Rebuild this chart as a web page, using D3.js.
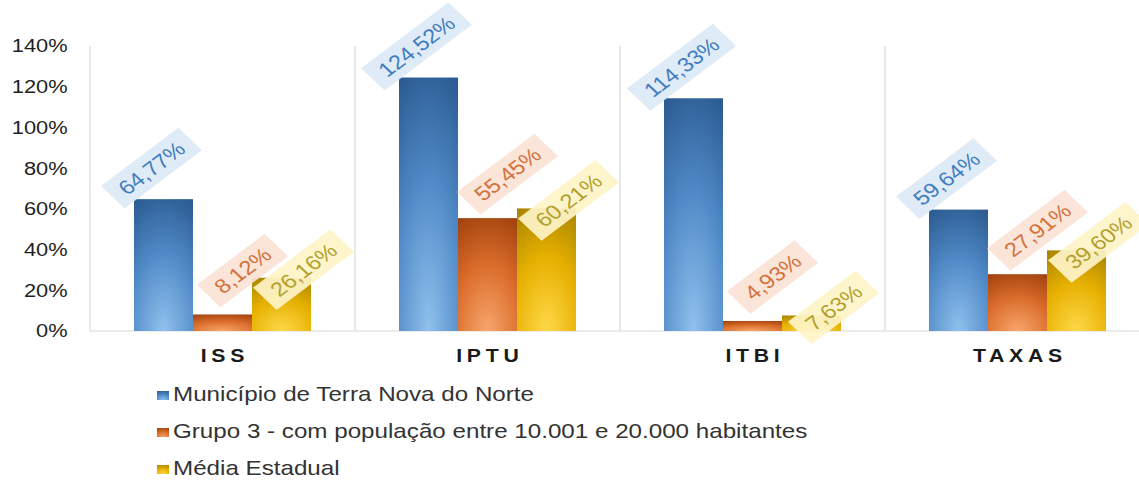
<!DOCTYPE html>
<html>
<head>
<meta charset="utf-8">
<script src="https://cdn.jsdelivr.net/npm/d3@7"></script>
<style>
body { margin: 0; background: #fff; }
text { font-family: "Liberation Sans", Arial, sans-serif; }
</style>
</head>
<body>
<svg id="chart" width="1139" height="480"></svg>
<script>
// values (percent)
var categories = ['ISS', 'IPTU', 'ITBI', 'TAXAS'];
var seriesNames = [
  'Município de Terra Nova do Norte',
  'Grupo 3 - com população entre 10.001 e 20.000 habitantes',
  'Média Estadual'
];
var municipio = [64.77, 124.52, 114.33, 59.64];
var grupo3 = [8.12, 55.45, 4.93, 27.91];
var mediaEstadual = [26.16, 60.21, 7.63, 39.60];
var yTicks = [0, 20, 40, 60, 80, 100, 120, 140];

var values = [municipio, grupo3, mediaEstadual];

// the original picture is stretched sideways, so draw in a narrower space and scale x
var SX = 1.18;

var svg = d3.select('#chart');
var g = svg.append('g').attr('transform', 'scale(' + SX + ',1)');

var plotLeft = 90 / SX,
    plotRight = plotLeft + 4 * 265 / SX;

var x0 = d3.scaleBand().domain(categories).range([plotLeft, plotRight]).padding(0);
var bw = x0.bandwidth();
var x1 = d3.scaleBand().domain(d3.range(seriesNames.length)).range([bw * 0.166, bw * 0.834]).padding(0);
var y = d3.scaleLinear().domain([0, 140]).range([331, 46]);

// gradient colours, label box / text colours and label offsets per series
var styles = [
  {light: '#90c1ee', mid: '#4f89c6', dark: '#2a5a90', box: '#dce9f6', txt: '#3f7dc0', dx: -12, dy: -31},
  {light: '#f8a66c', mid: '#d96b2a', dark: '#a0420e', box: '#fbe2d5', txt: '#d2723c', dx: 20, dy: -44},
  {light: '#ffd84a', mid: '#e6b000', dark: '#a88400', box: '#fef4c8', txt: '#b3a02c', dx: 22, dy: -8}
];

var defs = svg.append('defs');
styles.forEach(function(s, i) {
  var rg = defs.append('radialGradient')
    .attr('id', 'grad' + i)
    .attr('cx', 0.5).attr('cy', 1).attr('r', 1.1);
  rg.append('stop').attr('offset', '0%').attr('stop-color', s.light);
  rg.append('stop').attr('offset', '55%').attr('stop-color', s.mid);
  rg.append('stop').attr('offset', '100%').attr('stop-color', s.dark);
});

// separators between categories
var seps = categories.map(function(c) { return x0(c); }).concat([plotRight]);
g.append('g').selectAll('line')
  .data(seps)
  .enter().append('line')
  .attr('x1', function(d) { return d; })
  .attr('x2', function(d) { return d; })
  .attr('y1', y(140))
  .attr('y2', y(0))
  .attr('stroke', '#d9d9d9')
  .attr('stroke-width', 1);

g.append('line')
  .attr('x1', plotLeft).attr('x2', plotRight)
  .attr('y1', y(0)).attr('y2', y(0))
  .attr('stroke', '#d9d9d9');

// y axis labels
var yAxis = g.append('g')
  .attr('transform', 'translate(' + plotLeft + ',0)')
  .call(d3.axisLeft(y).tickValues(yTicks).tickSize(0).tickPadding(19)
    .tickFormat(function(d) { return d + '%'; }));
yAxis.select('.domain').remove();
yAxis.selectAll('text')
  .style('font-size', '18.5px')
  .style('font-family', '"Liberation Sans", Arial, sans-serif')
  .attr('fill', '#1f1f1f');

// category labels
var xAxis = g.append('g')
  .attr('transform', 'translate(0,' + y(0) + ')')
  .call(d3.axisBottom(x0).tickSize(0).tickPadding(18));
xAxis.select('.domain').remove();
xAxis.selectAll('text')
  .style('font-size', '18px')
  .style('font-weight', 'bold')
  .style('letter-spacing', '4px')
  .style('font-family', '"Liberation Sans", Arial, sans-serif')
  .attr('dx', '2px')
  .attr('fill', '#1a1a1a');

// bars
var bars = [];
values.forEach(function(arr, si) {
  arr.forEach(function(v, ci) {
    bars.push({s: si, c: categories[ci], v: v});
  });
});

g.append('g').selectAll('rect')
  .data(bars)
  .enter().append('rect')
  .attr('x', function(d) { return x0(d.c) + x1(d.s); })
  .attr('width', x1.bandwidth())
  .attr('y', function(d) { return y(d.v); })
  .attr('height', function(d) { return y(0) - y(d.v); })
  .attr('fill', function(d) { return 'url(#grad' + d.s + ')'; });

// rotated data labels with pale boxes
var angle = -Math.atan(Math.tan(37 * Math.PI / 180) * SX) * 180 / Math.PI;

var labels = g.append('g').selectAll('g')
  .data(bars)
  .enter().append('g')
  .attr('transform', function(d) {
    var cx = x0(d.c) + x1(d.s) + x1.bandwidth() / 2 + styles[d.s].dx / SX;
    var cy = y(d.v) + styles[d.s].dy;
    return 'translate(' + cx + ',' + cy + ') rotate(' + angle + ')';
  });

labels.append('rect').attr('class', 'box');
labels.append('text')
  .attr('text-anchor', 'middle')
  .attr('dy', '0.36em')
  .style('font-size', '20px')
  .attr('fill', function(d) { return styles[d.s].txt; })
  .text(function(d) { return d.v.toFixed(2).replace('.', ',') + '%'; });

labels.each(function() {
  var el = d3.select(this);
  var w = el.select('text').node().getComputedTextLength() + 20;
  el.select('rect')
    .attr('x', -w / 2).attr('y', -15)
    .attr('width', w).attr('height', 30)
    .attr('fill', function(d) { return styles[d.s].box; })
    .attr('fill-opacity', 0.92);
});

// legend
var legend = g.append('g').selectAll('g')
  .data(seriesNames)
  .enter().append('g')
  .attr('transform', function(d, i) { return 'translate(0,' + (401 + i * 37) + ')'; });

legend.append('rect')
  .attr('x', 157 / SX).attr('y', -10)
  .attr('width', 12 / SX).attr('height', 9)
  .attr('fill', function(d, i) { return 'url(#grad' + i + ')'; });

legend.append('text')
  .attr('x', 173 / SX)
  .style('font-size', '20.5px')
  .attr('fill', '#333')
  .text(function(d) { return d; });
</script>
</body>
</html>
